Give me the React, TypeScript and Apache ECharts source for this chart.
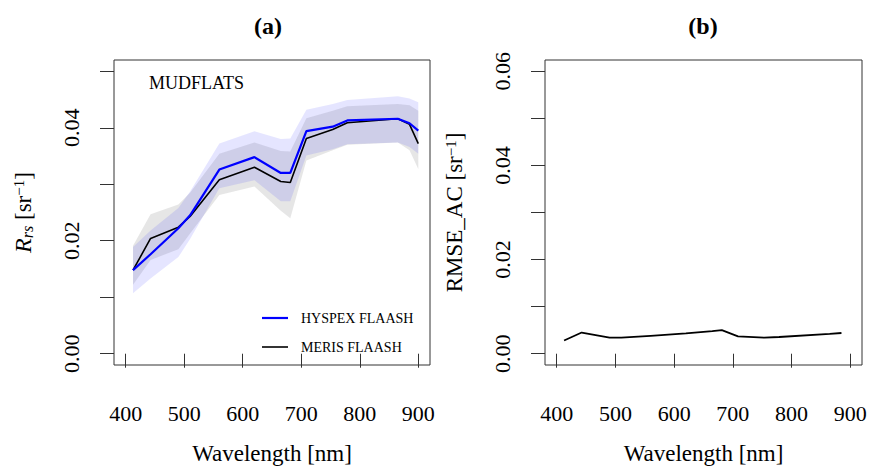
import React, { useEffect, useRef } from "react";
import * as echarts from "echarts";

// MERIS band centres (nm)
const wavelengths = [412.5, 442.5, 490, 510, 560, 620, 665, 681.25, 708.75, 753.75, 778.75, 865, 885, 900];
// HYSPEX FLAASH mean and band
const hyspexMean = [0.0148, 0.0176, 0.0222, 0.0245, 0.0326, 0.0348, 0.032, 0.032, 0.0394, 0.0402, 0.0413, 0.0416, 0.0408, 0.0395];
const hyspexUpper = [0.0189, 0.0218, 0.0258, 0.0287, 0.0372, 0.0394, 0.038, 0.0381, 0.0432, 0.0442, 0.0449, 0.0456, 0.0452, 0.0445];
const hyspexLower = [0.0107, 0.0133, 0.0171, 0.0203, 0.0293, 0.0307, 0.027, 0.027, 0.0351, 0.0362, 0.0371, 0.0374, 0.0366, 0.0354];
// MERIS FLAASH mean and band
const merisMean = [0.0148, 0.0204, 0.0224, 0.0243, 0.0308, 0.033, 0.0305, 0.0303, 0.0381, 0.0397, 0.0409, 0.0416, 0.0406, 0.0372];
const merisUpper = [0.0191, 0.0247, 0.0264, 0.0285, 0.0354, 0.0374, 0.0359, 0.0358, 0.0417, 0.043, 0.0438, 0.0442, 0.044, 0.043];
const merisLower = [0.0122, 0.0166, 0.0185, 0.0213, 0.0281, 0.0296, 0.0253, 0.024, 0.0342, 0.036, 0.037, 0.0374, 0.036, 0.0327];
// Panel (b) RMSE
const rmseWavelengths = [412.5, 442.5, 490, 510, 560, 620, 665, 681.25, 708.75, 753.75, 778.75, 865, 885];
const rmseValues = [0.0028, 0.0045, 0.0034, 0.0034, 0.0038, 0.0043, 0.0048, 0.005, 0.0037, 0.0034, 0.00355, 0.0042, 0.0044];

const xTicks = [400, 500, 600, 700, 800, 900];
const yTicksA = [0, 0.01, 0.02, 0.03, 0.04, 0.05];
const yLabelsA = [0, 0.02, 0.04];
const yTicksB = [0, 0.01, 0.02, 0.03, 0.04, 0.05, 0.06];
const yLabelsB = [0, 0.02, 0.04, 0.06];
const legendNames = ["HYSPEX FLAASH", "MERIS FLAASH"];
const legendColors = ["#0000ff", "#000000"];

const FONT = "'Liberation Serif', 'Times New Roman', serif";

function bandSeries(name: string, upper: number[], lower: number[], fill: string) {
  const data = wavelengths.map((w, i) => [w, lower[i], upper[i]]);
  return {
    name,
    type: "custom",
    xAxisIndex: 0,
    yAxisIndex: 0,
    silent: true,
    z: 1,
    encode: { x: 0, y: [1, 2] },
    data,
    renderItem: (params: any, api: any) => {
      if (params.dataIndex !== 0) return null;
      const pts: number[][] = [];
      for (let i = 0; i < data.length; i++) pts.push(api.coord([data[i][0], data[i][2]]));
      for (let i = data.length - 1; i >= 0; i--) pts.push(api.coord([data[i][0], data[i][1]]));
      return { type: "polygon", shape: { points: pts }, style: { fill, stroke: "none" } };
    },
  };
}

function xAxis(gridIndex: number) {
  return {
    type: "value",
    gridIndex,
    min: 380,
    max: 920,
    name: "Wavelength [nm]",
    nameLocation: "middle",
    nameGap: 77,
    nameTextStyle: { fontFamily: FONT, fontSize: 23, color: "#000" },
    axisLine: { show: false },
    axisTick: { show: true, length: 14, customValues: xTicks, lineStyle: { color: "#333", width: 1 } },
    axisLabel: { customValues: xTicks, margin: 37, fontFamily: FONT, fontSize: 22, color: "#000" },
    splitLine: { show: false },
  };
}

function yAxis(gridIndex: number, min: number, max: number, ticks: number[], labels: number[], name: string) {
  return {
    type: "value",
    gridIndex,
    min,
    max,
    name,
    nameLocation: "middle",
    nameGap: 79,
    nameRotate: 90,
    nameTextStyle: {
      fontFamily: FONT,
      fontSize: 23,
      color: "#000",
      rich: {
        i: { fontFamily: FONT, fontStyle: "italic", fontSize: 24, color: "#000" },
        sub: { fontFamily: FONT, fontStyle: "italic", fontSize: 16, color: "#000", verticalAlign: "bottom" },
        n: { fontFamily: FONT, fontSize: 23, color: "#000" },
        sup: { fontFamily: FONT, fontSize: 15, color: "#000", verticalAlign: "top" },
      },
    },
    axisLine: { show: false },
    axisTick: { show: true, length: 14, customValues: ticks, lineStyle: { color: "#333", width: 1 } },
    axisLabel: {
      customValues: labels,
      rotate: 90,
      margin: 32,
      fontFamily: FONT,
      fontSize: 22,
      color: "#000",
      formatter: (v: number) => v.toFixed(2),
    },
    splitLine: { show: false },
  };
}

export default function App() {
  const ref = useRef<HTMLDivElement>(null);
  useEffect(() => {
    document.body.style.margin = "0";
    const chart = echarts.init(ref.current!, null, { renderer: "svg" });
    const legendGraphics: any[] = [];
    legendNames.forEach((name, i) => {
      const y = 318 + i * 29;
      legendGraphics.push({
        type: "line",
        shape: { x1: 262, y1: y, x2: 288, y2: y },
        style: { stroke: legendColors[i], lineWidth: i === 0 ? 2.2 : 1.6 },
      });
      legendGraphics.push({
        type: "text",
        x: 301,
        y,
        style: { text: name, font: `14px ${FONT}`, fill: "#000", textAlign: "left", textVerticalAlign: "middle" },
      });
    });
    chart.setOption({
      animation: false,
      backgroundColor: "#fff",
      textStyle: { fontFamily: FONT },
      grid: [
        { left: 114, top: 60, width: 316, height: 310, show: true, borderColor: "#333", borderWidth: 1, backgroundColor: "transparent" },
        { left: 545, top: 60, width: 317, height: 310, show: true, borderColor: "#333", borderWidth: 1, backgroundColor: "transparent" },
      ],
      xAxis: [xAxis(0), xAxis(1)],
      yAxis: [
        yAxis(0, -0.002, 0.052, yTicksA, yLabelsA, "{i|R}{sub|rs} {n|[sr}{sup|−1}{n|]}"),
        yAxis(1, -0.0024, 0.0624, yTicksB, yLabelsB, "{n|RMSE_AC [sr}{sup|−1}{n|]}"),
      ],
      graphic: [
        { type: "text", x: 268, y: 26, style: { text: "(a)", font: `bold 24px ${FONT}`, fill: "#000", textAlign: "center", textVerticalAlign: "middle" } },
        { type: "text", x: 703, y: 26, style: { text: "(b)", font: `bold 24px ${FONT}`, fill: "#000", textAlign: "center", textVerticalAlign: "middle" } },
        { type: "text", x: 149, y: 83, style: { text: "MUDFLATS", font: `18px ${FONT}`, fill: "#000", textAlign: "left", textVerticalAlign: "middle" } },
        ...legendGraphics,
      ],
      series: [
        bandSeries("MERIS band", merisUpper, merisLower, "rgba(128,128,128,0.2)"),
        bandSeries("HYSPEX band", hyspexUpper, hyspexLower, "rgba(0,0,255,0.1)"),
        {
          name: "MERIS FLAASH",
          type: "line",
          xAxisIndex: 0,
          yAxisIndex: 0,
          symbol: "none",
          z: 3,
          color: "#000",
          lineStyle: { color: "#000", width: 1.6 },
          data: wavelengths.map((w, i) => [w, merisMean[i]]),
        },
        {
          name: "HYSPEX FLAASH",
          type: "line",
          xAxisIndex: 0,
          yAxisIndex: 0,
          symbol: "none",
          z: 4,
          color: "#0000ff",
          lineStyle: { color: "#0000ff", width: 2.2 },
          data: wavelengths.map((w, i) => [w, hyspexMean[i]]),
        },
        {
          name: "RMSE_AC",
          type: "line",
          xAxisIndex: 1,
          yAxisIndex: 1,
          symbol: "none",
          color: "#000",
          lineStyle: { color: "#000", width: 1.8 },
          data: rmseWavelengths.map((w, i) => [w, rmseValues[i]]),
        },
      ],
    });
    return () => chart.dispose();
  }, []);
  return <div ref={ref} style={{ position: "absolute", left: 0, top: 0, width: 870, height: 470 }} />;
}
